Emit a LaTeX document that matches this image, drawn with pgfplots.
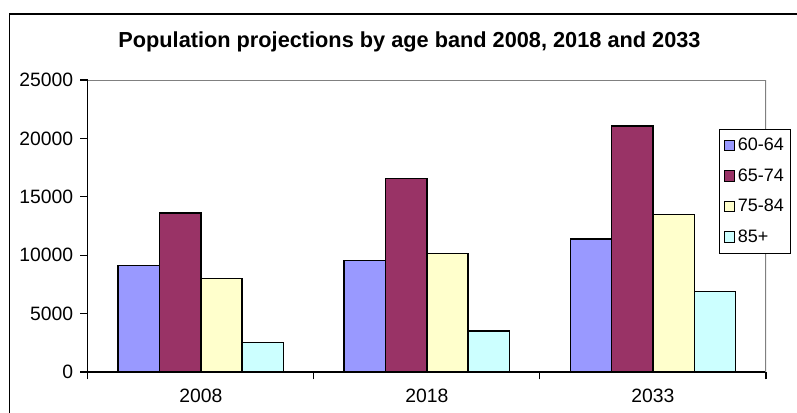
\documentclass[border=0pt]{standalone}
\usepackage{pgfplots}
\pgfplotsset{compat=1.18}
\usepackage{fontspec}
\setmainfont{Liberation Sans}

\definecolor{cLav}{HTML}{9999FF}
\definecolor{cPlum}{HTML}{993366}
\definecolor{cIvory}{HTML}{FFFFCC}
\definecolor{cAqua}{HTML}{CCFFFF}
\definecolor{cFrame}{HTML}{808080}

\begin{document}
\begin{tikzpicture}
\useasboundingbox (0,0) rectangle (597.75pt,309pt);
% outer chart frame
\draw[line width=0.8pt] (7pt,-5pt) -- (7pt,298.5pt) -- (605pt,298.5pt);
% chart title
\node[anchor=base, font=\bfseries\fontsize{16.3}{19}\selectfont] at (307.1pt,273.75pt)
  {Population projections by age band 2008, 2018 and 2033};
\begin{axis}[
  at={(65.8pt,30pt)}, anchor=south west,
  scale only axis, width=508.7pt, height=219pt,
  ybar=0pt, bar width=31pt,
  xmin=0, xmax=3, ymin=0, ymax=25000,
  xtick={0,1,2,3}, xticklabels={2008,2018,2033},
  x tick label as interval,
  ytick={0,5000,10000,15000,20000,25000},
  scaled y ticks=false,
  /pgf/number format/1000 sep={},
  /pgf/number format/assume math mode=true,
  tick align=outside,
  major tick length=5.5pt,
  axis x line*=bottom, axis y line*=left,
  axis line style={-, line width=0.8pt, black},
  tick style={line width=0.8pt, black},
  ticklabel style={font=\fontsize{14.5}{17}\selectfont},
  xticklabel style={yshift=-4pt},
  yticklabel style={xshift=-2pt},
  legend style={at={(0.9307,0.8322)}, anchor=north west,
    font=\fontsize{13.5}{16}\selectfont, draw=black, line width=0.8pt,
    row sep=8pt, inner xsep=3pt, inner ysep=4.5pt, cells={anchor=west}},
  legend image code/.code={\draw[#1, line width=0.8pt, draw=black] (0pt,-4pt) rectangle (8pt,4pt);},
]
\draw[cFrame, line width=0.8pt] (rel axis cs:0,1) -- (rel axis cs:1,1) -- (rel axis cs:1,0);
\addplot[draw=black, line width=1.1pt, fill=cLav] coordinates {(0.5,9110) (1.5,9530) (2.5,11390)};
\addplot[draw=black, line width=1.1pt, fill=cPlum] coordinates {(0.5,13610) (1.5,16580) (2.5,21080)};
\addplot[draw=black, line width=1.1pt, fill=cIvory] coordinates {(0.5,7990) (1.5,10130) (2.5,13500)};
\addplot[draw=black, line width=1.1pt, fill=cAqua] coordinates {(0.5,2510) (1.5,3510) (2.5,6880)};
\legend{60-64,65-74,75-84,85+}
\end{axis}
\end{tikzpicture}
\end{document}
